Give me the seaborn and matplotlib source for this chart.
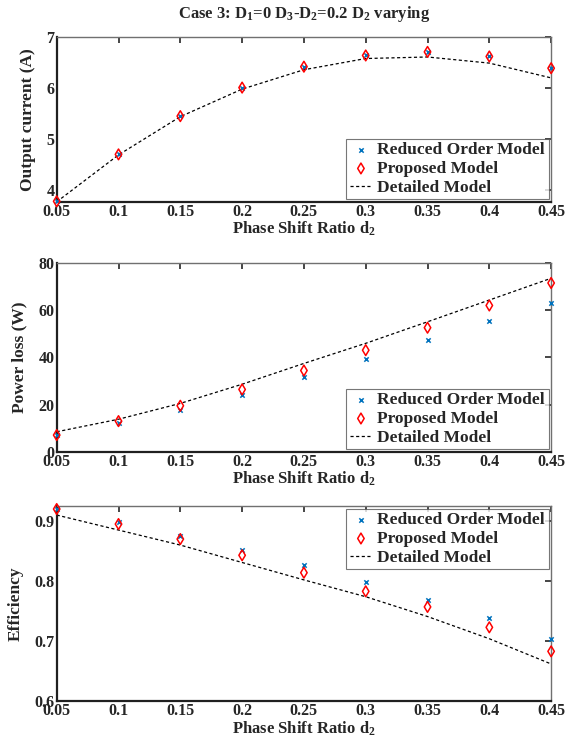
import numpy as np
import pandas as pd
import seaborn as sns
import matplotlib.pyplot as plt

# Phase shift ratio d2 (x axis for all three panels)
d2 = [0.05, 0.10, 0.15, 0.20, 0.25, 0.30, 0.35, 0.40, 0.45]

# Output current (A)
current_reduced = [3.78, 4.70, 5.45, 6.01, 6.42, 6.64, 6.71, 6.62, 6.39]
current_proposed = [3.78, 4.70, 5.45, 6.01, 6.42, 6.64, 6.71, 6.62, 6.39]
current_detailed = [3.77, 4.69, 5.44, 5.98, 6.36, 6.58, 6.61, 6.49, 6.20]

# Power loss (W)
loss_reduced = [7.3, 12.0, 17.6, 24.0, 31.5, 39.4, 47.4, 55.3, 62.8]
loss_proposed = [7.1, 13.0, 19.5, 26.4, 34.4, 43.0, 52.5, 61.9, 71.4]
loss_detailed = [8.5, 13.8, 20.5, 28.6, 37.4, 45.9, 55.0, 64.2, 73.4]

# Efficiency
eff_reduced = [0.920, 0.898, 0.875, 0.852, 0.826, 0.798, 0.769, 0.738, 0.704]
eff_proposed = [0.920, 0.895, 0.870, 0.843, 0.814, 0.783, 0.757, 0.723, 0.683]
eff_detailed = [0.910, 0.885, 0.860, 0.831, 0.802, 0.774, 0.741, 0.704, 0.662]

xticks = [0.05, 0.1, 0.15, 0.2, 0.25, 0.3, 0.35, 0.4, 0.45]
xticklabels = ["0.05", "0.1", "0.15", "0.2", "0.25", "0.3", "0.35", "0.4", "0.45"]

sns.set_style("white")
plt.rcParams['font.family'] = ['Liberation Serif', 'DejaVu Serif']
plt.rcParams['font.weight'] = 'bold'
plt.rcParams['mathtext.fontset'] = 'custom'
plt.rcParams['mathtext.rm'] = 'Liberation Serif:bold'
plt.rcParams['mathtext.it'] = 'Liberation Serif:bold'
plt.rcParams['mathtext.bf'] = 'Liberation Serif:bold'
plt.rcParams['mathtext.default'] = 'rm'

fig = plt.figure(figsize=(5.67, 7.42), dpi=100)
ax1 = fig.add_axes([0.100, 0.728, 0.872, 0.222])
ax2 = fig.add_axes([0.100, 0.391, 0.872, 0.255])
ax3 = fig.add_axes([0.100, 0.055, 0.872, 0.263])

panels = [
    (ax1, current_reduced, current_proposed, current_detailed, "Output current (A)", (3.77, 7), [4, 5, 6, 7], "lower right"),
    (ax2, loss_reduced, loss_proposed, loss_detailed, "Power loss (W)", (0, 80), [0, 20, 40, 60, 80], "lower right"),
    (ax3, eff_reduced, eff_proposed, eff_detailed, "Efficiency", (0.6, 0.925), [0.6, 0.7, 0.8, 0.9], "upper right"),
]

for ax, red, prop, det, ylabel, ylim, yticks, loc in panels:
    df = pd.DataFrame({"d2": d2, "reduced": red, "proposed": prop, "detailed": det})
    sns.scatterplot(data=df, x="d2", y="reduced", ax=ax, marker="x", color="#0072BD",
                    s=10, linewidth=1.1, label="Reduced Order Model", zorder=3, clip_on=False)
    sns.scatterplot(data=df, x="d2", y="proposed", ax=ax, marker="d", facecolor="none",
                    edgecolor="red", s=30, linewidth=1.1, label="Proposed Model", zorder=4, clip_on=False)
    sns.lineplot(data=df, x="d2", y="detailed", ax=ax, color="black", linestyle=(0, (2.5, 2)),
                 linewidth=0.9, label="Detailed Model", zorder=2)

    ax.set_xlim(0.05, 0.45)
    ax.set_ylim(*ylim)
    ax.set_xticks(xticks)
    ax.set_xticklabels(xticklabels)
    ax.set_yticks(yticks)
    if ax is ax3:
        ax.set_yticklabels(["0.6", "0.7", "0.8", "0.9"])
    ax.tick_params(direction="in", length=4, width=1.2, labelsize=11.5, top=True, right=True, pad=1.5)
    for lab in ax.get_xticklabels() + ax.get_yticklabels():
        lab.set_fontweight("bold")
    ax.set_xlabel("Phase Shift Ratio d$_2$", fontsize=12, fontweight="bold", labelpad=0)
    ax.set_ylabel(ylabel, fontsize=12.5, fontweight="bold", labelpad=8)
    for side in ["left", "bottom"]:
        ax.spines[side].set_linewidth(1.6)
        ax.spines[side].set_color("#202020")
    for side in ["top", "right"]:
        ax.spines[side].set_linewidth(1.0)
        ax.spines[side].set_color("#707070")

    leg = ax.legend(loc=loc, fontsize=12.5, frameon=True, fancybox=False, handlelength=1.3,
                    handletextpad=0.3, borderpad=0.2, labelspacing=0.15, borderaxespad=0.15)
    leg.get_frame().set_edgecolor("#555555")
    leg.get_frame().set_linewidth(0.8)
    for t in leg.get_texts():
        t.set_fontweight("bold")

ax1.set_title("Case 3: D$_1$=0 D$_3$-D$_2$=0.2 D$_2$ varying", fontsize=12, fontweight="bold", pad=14)

fig.savefig("out.png", dpi=100)
